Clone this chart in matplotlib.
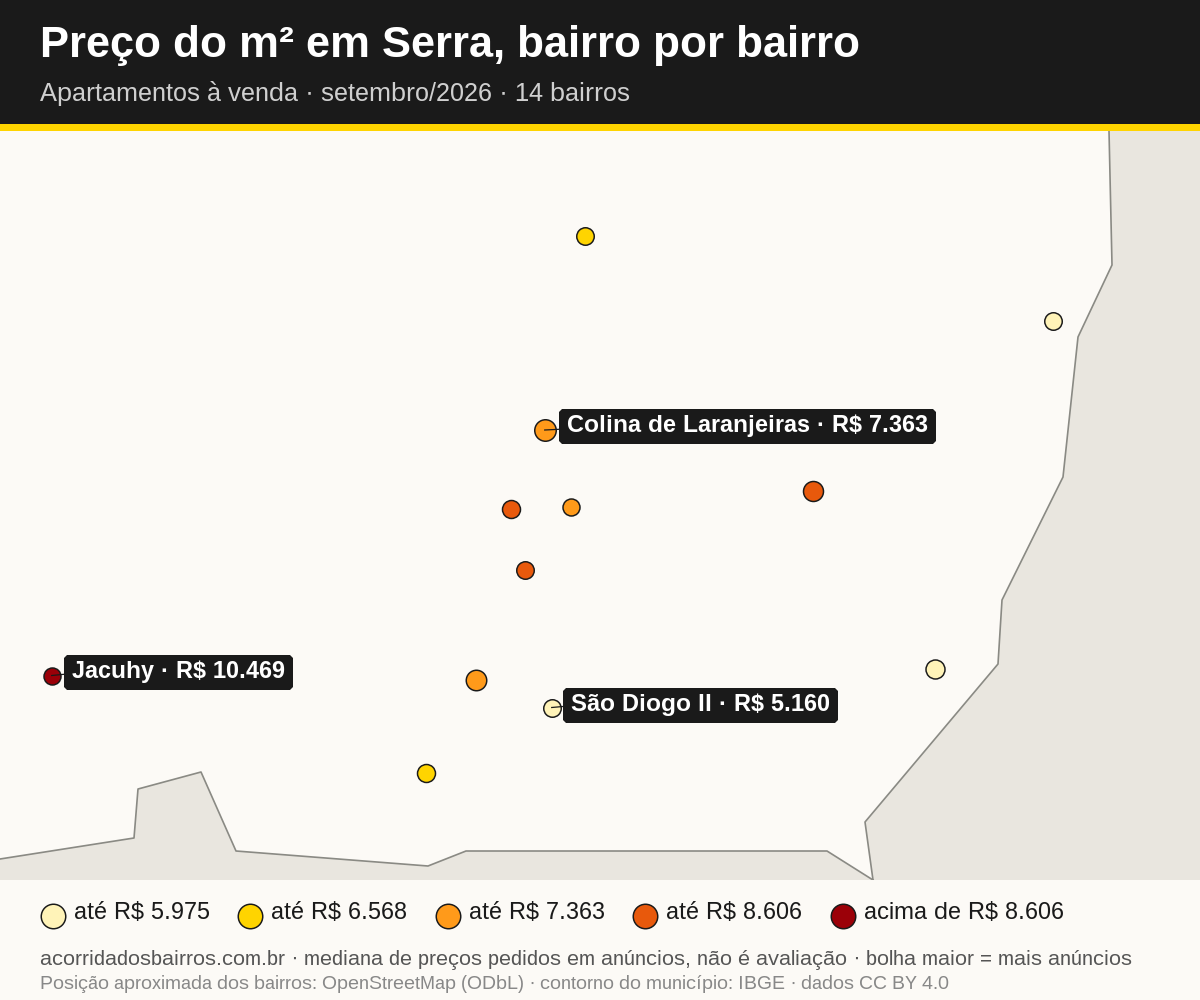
import matplotlib
matplotlib.use("Agg")
import matplotlib.pyplot as plt
from matplotlib.patches import Polygon, Rectangle

plt.rcParams['font.family'] = ['Liberation Sans', 'DejaVu Sans']
plt.rcParams['text.hinting'] = 'native'
plt.rcParams['text.hinting_factor'] = 1

title = "Preço do m² em Serra, bairro por bairro"
subtitle = "Apartamentos à venda · setembro/2026 · 14 bairros"
footer1 = "acorridadosbairros.com.br · mediana de preços pedidos em anúncios, não é avaliação · bolha maior = mais anúncios"
footer2 = "Posição aproximada dos bairros: OpenStreetMap (ODbL) · contorno do município: IBGE · dados CC BY 4.0"

class_labels = ["até R$ 5.975", "até R$ 6.568", "até R$ 7.363", "até R$ 8.606", "acima de R$ 8.606"]
class_colors = ["#FFF3B8", "#FFD400", "#FF9A1A", "#E8590C", "#9B0008"]

# map positions, outer bubble diameters and class index
px = [584.7, 1053.2, 544.7, 511.2, 570.7, 813.2, 524.7, 51.7, 476.2, 551.7, 934.7, 426.2]
py = [235.5, 320.5, 430, 508.5, 507, 490.5, 570, 675.5, 679.5, 707.5, 669, 772.5]
pd = [19, 19, 23, 19.5, 18.5, 21.5, 19, 18.5, 22, 19, 20.5, 19.5]
pc = [1, 0, 2, 3, 2, 3, 3, 4, 2, 0, 0, 1]

callout_text = ["Colina de Laranjeiras · R$ 7.363", "Jacuhy · R$ 10.469", "São Diogo II · R$ 5.160"]
callout_xy = [(544.7, 430), (51.7, 675.5), (551.7, 707.5)]
callout_end_y = [429.3, 674.3, 706.5]
callout_x = [567, 72, 571]
callout_base = [432, 678, 711]

east_x = [1109, 1112, 1078, 1063, 1002, 998, 865, 873, 1200, 1200]
east_y = [131, 265, 337, 477, 600, 664, 822, 880, 880, 131]
south_x = [0, 134, 138, 201, 236, 428, 466, 827, 873, 873, 0]
south_y = [859, 838, 789, 772, 851, 866, 851, 851, 880, 880, 880]

fig = plt.figure(figsize=(12, 10), dpi=100, facecolor="#FCFAF6")
ax = fig.add_axes([0, 0, 1, 1])
ax.set_xlim(0, 1200)
ax.set_ylim(1000, 0)
ax.axis("off")

BG = "#FCFAF6"
LAND = "#E9E6DF"
EDGE = "#8A8A84"
DARK = "#1A1A1A"
PX = 0.72  # points per pixel

ax.add_patch(Polygon(list(zip(east_x, east_y)), closed=True, fc=LAND, ec="none", zorder=1))
ax.add_patch(Polygon(list(zip(south_x, south_y)), closed=True, fc=LAND, ec="none", zorder=1))
ax.plot(east_x[:8], east_y[:8], color=EDGE, lw=1.2, zorder=1.5)
ax.plot(south_x[:9], south_y[:9], color=EDGE, lw=1.2, zorder=1.5)
ax.add_patch(Rectangle((0, 880), 1200, 120, fc=BG, ec="none", zorder=2))
ax.add_patch(Rectangle((0, 0), 1200, 124, fc=DARK, ec="none", zorder=3))
ax.add_patch(Rectangle((0, 124), 1200, 7, fc="#FFD400", ec="none", zorder=3))

ax.text(40, 57, title, color="white", fontsize=32, fontweight="bold", va="baseline", zorder=4)
ax.text(40, 101, subtitle, color="#CFCFCF", fontsize=18.72, va="baseline", zorder=4)

for x, y, d, c in zip(px, py, pd, pc):
    ax.plot(x, y, "o", ms=(d - 1.5) * PX, mfc=class_colors[c], mec="#1A1A1A", mew=1.5 * PX, zorder=5, snap=False)

fig.canvas.draw()
renderer = fig.canvas.get_renderer()
for t, xy, ey, x, b in zip(callout_text, callout_xy, callout_end_y, callout_x, callout_base):
    txt = ax.text(x, b, t, color="white", fontsize=17.3, fontweight="bold", va="baseline", zorder=7)
    w = txt.get_window_extent(renderer).width
    l, r, top, bot, k = x - 8, x + w + 8, b - 23, b + 12, 3
    ax.plot([xy[0], l], [xy[1], ey], color=DARK, lw=0.9, zorder=6)
    ax.add_patch(Polygon([(l + k, top), (r - k, top), (r, top + k), (r, bot - k), (r - k, bot),
                          (l + k, bot), (l, bot - k), (l, top + k)], closed=True, fc=DARK, ec="none", zorder=6.5))

leg_x = [52.5, 249.5, 447.5, 644.5, 842.5]
for x, c, l in zip(leg_x, class_colors, class_labels):
    ax.plot(x, 915.5, "o", ms=(26 - 1.5) * PX, mfc=c, mec="#1A1A1A", mew=1.5 * PX, zorder=5, snap=False)
    ax.text(x + 21.5, 919, l, color=DARK, fontsize=17.4, va="baseline", zorder=5)

ax.text(40, 965, footer1, color="#555555", fontsize=15.4, va="baseline", zorder=5)
ax.text(40, 989, footer2, color="#888888", fontsize=13.4, va="baseline", zorder=5)

fig.savefig("out.png", dpi=100, facecolor=fig.get_facecolor())
